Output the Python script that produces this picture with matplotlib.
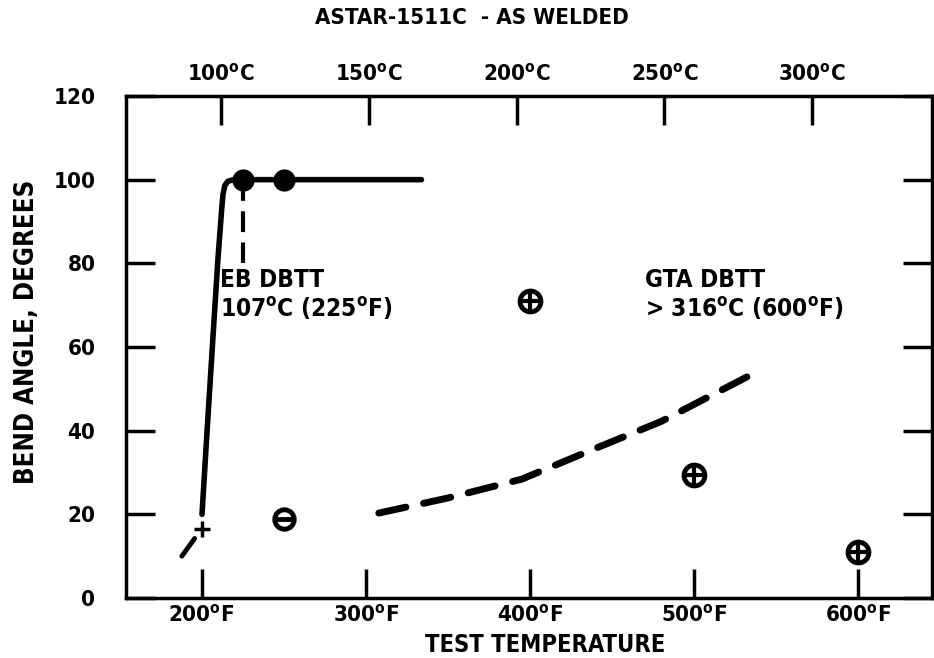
import matplotlib.pyplot as plt
import numpy as np

plt.rcParams['font.family'] = ['DejaVu Sans']
plt.rcParams['font.stretch'] = 'condensed'
plt.rcParams['font.weight'] = 'bold'
plt.rcParams['axes.labelweight'] = 'bold'
plt.rcParams['mathtext.fontset'] = 'custom'
plt.rcParams['mathtext.rm'] = 'DejaVu Sans:bold'
plt.rcParams['mathtext.it'] = 'DejaVu Sans:bold'

# EB weld curve (deg F, bend angle)
eb_temp = [200.3, 203.4, 206.6, 210, 212.3, 213.1, 214.2, 216, 219.5, 226, 250, 334]
eb_angle = [20, 40, 60, 81, 93, 96.5, 98.6, 99.6, 100, 100, 100, 100]
eb_low_temp = [188, 200]
eb_low_angle = [10, 16.5]
eb_dots_temp = [225, 250]
eb_dots_angle = [100, 100]
eb_dbtt = 225

# GTA weld curve
gta_temp = [308, 350, 395, 439, 480, 533]
gta_angle = [20.3, 23.9, 28.4, 35.6, 42.2, 53]
gta_pts_temp = [400, 500, 600]
gta_pts_angle = [71, 29.5, 11]

minus_temp, minus_angle = 250, 19
plus_temp, plus_angle = 200, 16.5

f_ticks = [200, 300, 400, 500, 600]
c_ticks = [100, 150, 200, 250, 300]
y_ticks = [0, 20, 40, 60, 80, 100, 120]

deg = r'$^{\mathrm{o}}$'

fig = plt.figure(figsize=(9.34, 6.58), dpi=100)
ax = fig.add_axes([126/934, 1 - 598/658, (932 - 126)/934, (598 - 96)/658])
ax.set_xlim(154, 645)
ax.set_ylim(0, 120)

# EB data
ax.plot(eb_temp, eb_angle, color='k', lw=4, solid_capstyle='round', solid_joinstyle='round')
ax.plot(eb_low_temp, eb_low_angle, color='k', lw=3.5, dashes=(4.5, 10), dash_capstyle='round')
ax.plot([eb_dbtt, eb_dbtt], [100, 80], color='k', lw=3, dashes=(5, 2.5))
ax.plot(eb_dots_temp, eb_dots_angle, 'o', color='k', ms=15)
ax.plot(plus_temp, plus_angle, '+', color='k', ms=12, mew=2.5)

# GTA data
ax.plot(gta_temp, gta_angle, color='k', lw=5, dashes=(4, 2.6), dash_capstyle='round')
ax.plot(gta_pts_temp, gta_pts_angle, 'o', mfc='white', mec='k', mew=3.5, ms=15)
ax.plot(gta_pts_temp, gta_pts_angle, '+', color='k', mew=3, ms=14)
ax.plot(minus_temp, minus_angle, 'o', mfc='white', mec='k', mew=3.5, ms=14)
ax.plot(minus_temp, minus_angle, '_', color='k', mew=3.5, ms=13)

ax.text(211.5, 67.3, 'EB DBTT\n107' + deg + 'C (225' + deg + 'F)', fontsize=17.5,
        va='baseline', ha='left', linespacing=1.12)
ax.text(470, 67.3, 'GTA DBTT\n> 316' + deg + 'C (600' + deg + 'F)', fontsize=17.5,
        va='baseline', ha='left', linespacing=1.12)

for s in ax.spines.values():
    s.set_linewidth(2.5)

ax.set_xticks(f_ticks)
ax.set_xticklabels([f'{t}' + deg + 'F' for t in f_ticks])
ax.set_yticks(y_ticks)
ax.tick_params(direction='in', length=21, width=2.5, right=True, labelsize=16)
ax.tick_params(axis='x', pad=4)
ax.tick_params(axis='y', pad=22)

def f2c(f):
    return (np.asarray(f) - 32) * 5 / 9

def c2f(c):
    return np.asarray(c) * 9 / 5 + 32

top = ax.secondary_xaxis('top', functions=(f2c, c2f))
top.set_xticks(c_ticks)
top.set_xticklabels([f'{t}' + deg + 'C' for t in c_ticks])
top.tick_params(direction='in', length=21, width=2.5, labelsize=16, pad=8)

ax.set_xlabel('TEST TEMPERATURE', fontsize=17)
ax.xaxis.set_label_coords(0.52, -0.07)
ax.xaxis.label.set_va('top')
ax.set_ylabel('BEND ANGLE, DEGREES', fontsize=18.5)
ax.yaxis.set_label_coords(-0.107, 0.53)
fig.text(0.505, 0.972, 'ASTAR-1511C  - AS WELDED', fontsize=16, ha='center', va='center')

fig.savefig('out.png', dpi=100)
